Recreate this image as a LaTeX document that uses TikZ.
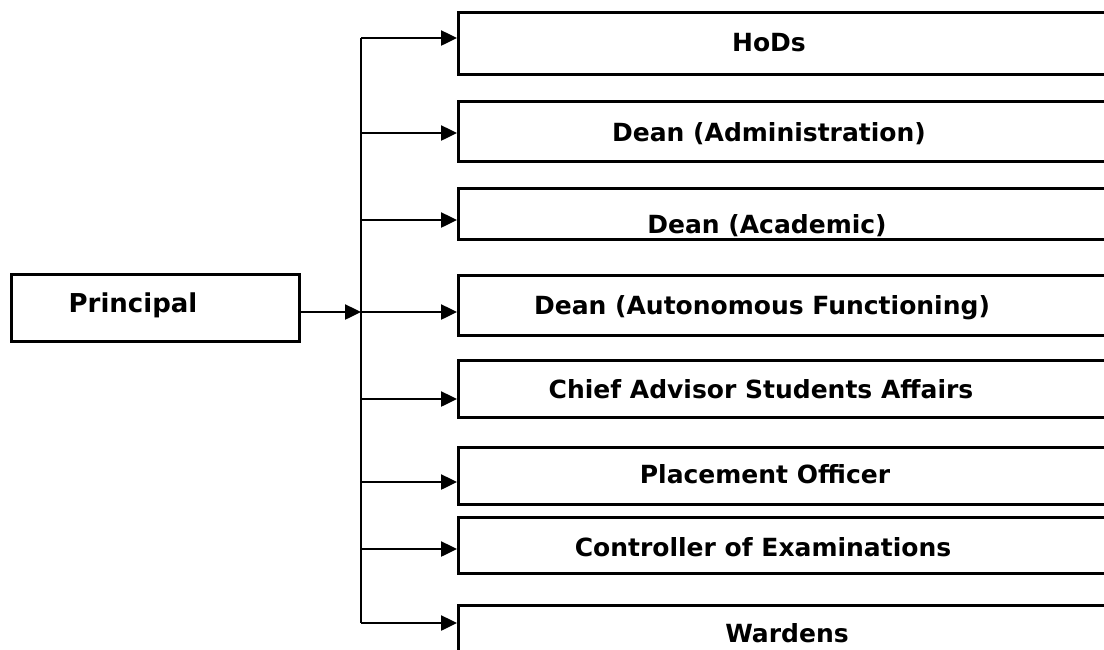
\documentclass[tikz,border=0pt]{standalone}
\usepackage{fontspec}
\setmainfont{DejaVu Sans}
\usetikzlibrary{arrows.meta}
\begin{document}
\begin{tikzpicture}[x=1pt,y=-1pt,
  box/.style={draw,line width=2.5pt,anchor=north west,inner sep=0pt,minimum width=720pt},
  lbl/.style={anchor=base,inner sep=0pt,font=\fontsize{25}{30}\selectfont\bfseries},
  conn/.style={line width=2.5pt,-{Triangle[length=16pt,width=15pt]}},
  bus/.style={line width=2.5pt}]
\useasboundingbox (0,0) rectangle (1104,649);
\clip (0,0) rectangle (1104,649);
% Principal
\node[box,minimum width=288pt,minimum height=67pt] (prin) at (10,273) {};
\node[lbl,font=\fontsize{26}{30}\selectfont\bfseries] (prinl) at (133,312) {Principal};
% boxes
\node[box,minimum height=62pt] (b1) at (457,11) {};
\node[box,minimum height=60pt] (b2) at (457,100) {};
\node[box,minimum height=51pt] (b3) at (457,187) {};
\node[box,minimum height=60pt] (b4) at (457,274) {};
\node[box,minimum height=57pt] (b5) at (457,359) {};
\node[box,minimum height=57pt] (b6) at (457,446) {};
\node[box,minimum height=56pt] (b7) at (457,516) {};
\node[box,minimum height=80pt] (b8) at (457,604) {};
\node[lbl] (l1) at (769,51) {HoDs};
\node[lbl] (l2) at (769,141) {Dean (Administration)};
\node[lbl] (l3) at (767,233) {Dean (Academic)};
\node[lbl] (l4) at (762,314) {Dean (Autonomous Functioning)};
\node[lbl] (l5) at (761,398) {Chief Advisor Students Affairs};
\node[lbl] (l6) at (765,483) {Placement Officer};
\node[lbl] (l7) at (763,556) {Controller of Examinations};
\node[lbl] (l8) at (787,642) {Wardens};
% bus coordinates
\coordinate (c1) at (361,38);
\coordinate (c2) at (361,133);
\coordinate (c3) at (361,220);
\coordinate (c4) at (361,312);
\coordinate (c5) at (361,399);
\coordinate (c6) at (361,482);
\coordinate (c7) at (361,549);
\coordinate (c8) at (361,623);
\draw[bus] (c1) -- (c8);
\draw[conn] (prin.east |- c4) -- (c4);
\foreach \i in {1,...,8} {
  \draw[conn] (c\i) -- (c\i -| b\i.west);
}
\end{tikzpicture}
\end{document}
